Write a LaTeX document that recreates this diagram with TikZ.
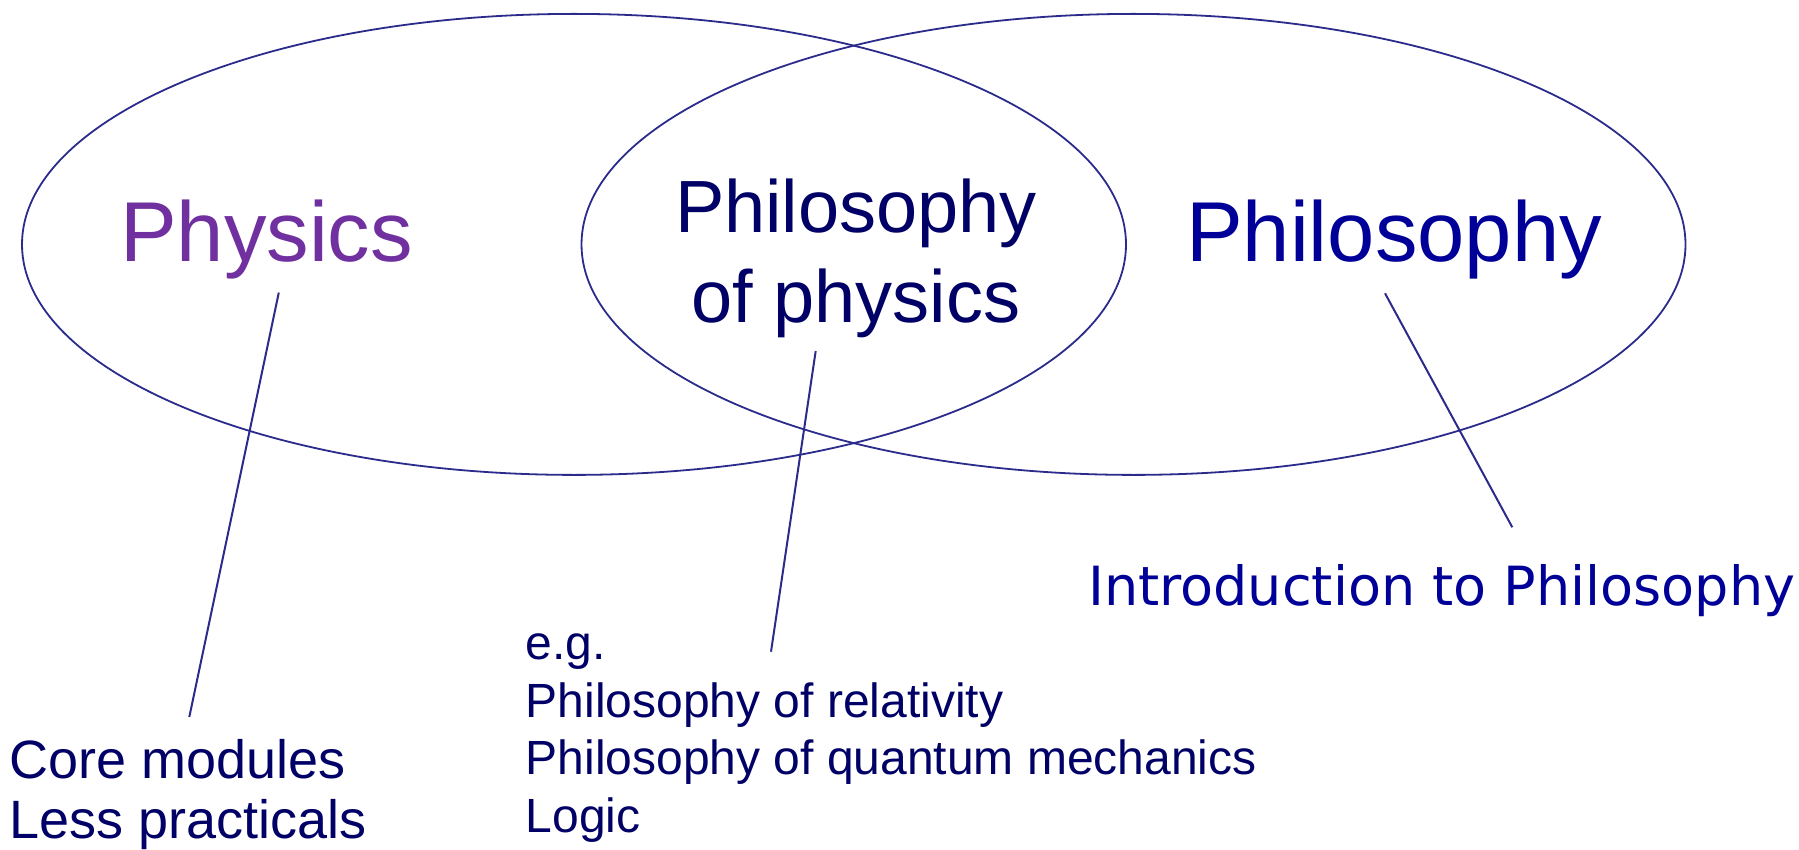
\documentclass[tikz,border=0pt]{standalone}
\usepackage{fontspec}
\setmainfont{Liberation Sans}
\newfontfamily\widefont{DejaVu Sans}
\usetikzlibrary{shapes.geometric, positioning}
\definecolor{setblue}{RGB}{43,43,140}
\definecolor{physpurple}{RGB}{112,48,160}
\definecolor{navy}{RGB}{0,0,102}
\definecolor{philblue}{RGB}{0,0,153}

\begin{document}
\begin{tikzpicture}[
    x=1pt, y=-1pt,
    set/.style={ellipse, draw=setblue, line width=1.8pt, inner sep=0,
        minimum width=1104pt, minimum height=461pt},
    title/.style={inner sep=0, font=\fontsize{85}{100}\selectfont},
    leader/.style={draw=setblue, line width=2pt},
    note/.style={inner sep=0, align=left, text=navy}
]
    \useasboundingbox (0,0) rectangle (1799,850);
    \node[set] (physicsset) at (574,244.4) {};
    \node[set] (philset) at (1133.5,244.4) {};
    \node[title, text=physpurple, anchor=base] (physics) at (266.5,261.7) {Physics};
    \node[title, text=philblue, anchor=base] (philosophy) at (1394,261.7) {Philosophy};
    \node[inner sep=0, align=center, text=navy, anchor=base,
        font=\fontsize{74}{90}\selectfont] (philphys) at (856,323) {Philosophy\\of physics};
    \node[note, anchor=base west, font=\fontsize{54}{60}\selectfont] (core) at (9,838)
        {Core modules\\Less practicals};
    \node[note, anchor=base west, font=\fontsize{48}{57.5}\selectfont] (examples) at (525.5,832.3)
        {e.g.\\Philosophy of relativity\\Philosophy of quantum mechanics\\Logic};
    \node[inner sep=0, text=philblue, anchor=base west,
        font=\widefont\fontsize{54}{60}\selectfont] (intro) at (1088,605) {Introduction to Philosophy};
    % leader lines
    \coordinate (p1) at (278.8,292.6);
    \coordinate (p2) at (189.3,717);
    \coordinate (q1) at (815.7,351);
    \coordinate (q2) at (771,651.7);
    \coordinate (r1) at (1385,293.3);
    \coordinate (r2) at (1512.3,527.3);
    \draw[leader] (p1) -- (p2);
    \draw[leader] (q1) -- (q2);
    \draw[leader] (r1) -- (r2);
\end{tikzpicture}
\end{document}
